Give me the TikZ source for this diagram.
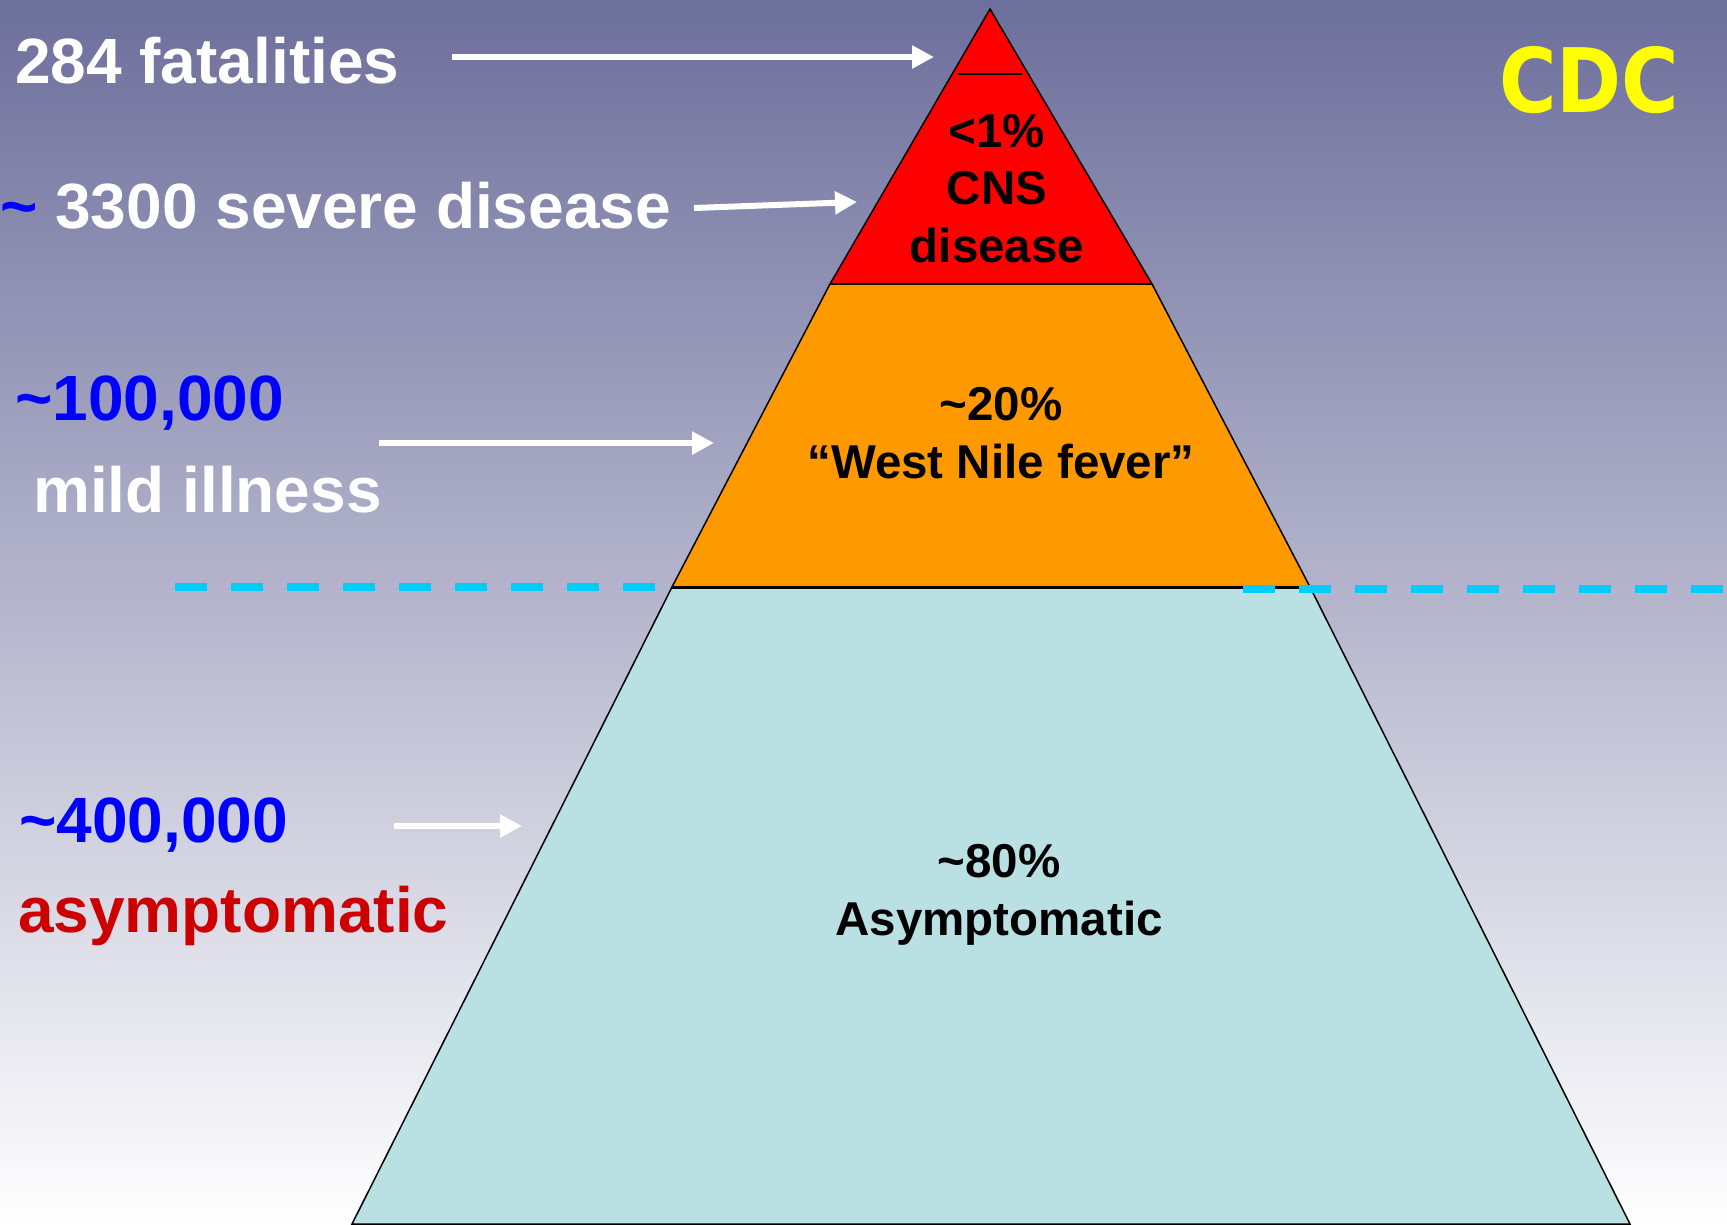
\documentclass[tikz,border=0pt]{standalone}
\usepackage{fontspec}
\setmainfont{Liberation Sans}
\newfontfamily\cdcfont{DejaVu Sans}
\usetikzlibrary{arrows.meta}
\definecolor{bgtop}{HTML}{6D6F9C}
\definecolor{pyrred}{HTML}{FF0000}
\definecolor{pyrorange}{HTML}{FF9900}
\definecolor{pyrcyan}{HTML}{B9E0E3}
\definecolor{waterline}{HTML}{00CCFF}
\definecolor{darkred}{HTML}{CC0000}
\definecolor{cdcyellow}{HTML}{FFFF00}
\tikzset{
  bigtxt/.style={font=\fontsize{64}{77}\selectfont\bfseries, inner sep=0pt, anchor=base west},
  pyrtxt/.style={font=\fontsize{47.5}{57}\selectfont\bfseries, inner sep=0pt, anchor=base, text=black},
  warrow/.style={draw=white, line width=6pt, -{Triangle[length=22pt,width=22pt]}, white},
  layer/.style={draw=black, line width=1.5pt, line join=miter},
  dashline/.style={draw=waterline, line width=8pt, dash pattern=on 32pt off 24pt}
}
\begin{document}
\begin{tikzpicture}[x=1pt,y=-1pt]
% background
\shade[top color=bgtop, bottom color=white] (0,0) rectangle (1727,1224);
\useasboundingbox (0,0) rectangle (1727,1224);

% pyramid
\path[layer, fill=pyrcyan] (672,587) -- (1310,587) -- (1630,1224) -- (352,1224) -- cycle;
\path[layer, fill=pyrorange] (830,284) -- (1152,284) -- (1310,587) -- (672,587) -- cycle;
\path[layer, fill=pyrred] (990,9) -- (1152,284) -- (830,284) -- cycle;
\draw[line width=3pt] (672,587) -- (1310,587);
\draw[line width=2.5pt] (830,284) -- (1152,284);
\draw[line width=2pt] (958,74) -- (1022,74);

% waterline
\draw[dashline] (175,587) -- (655,587);
\draw[dashline] (1243,589) -- (1724,589);

% pyramid labels
\node[pyrtxt] (p1a) at (997,147) {<1\%};
\node[pyrtxt] (p1b) at (997,204) {CNS};
\node[pyrtxt] (p1c) at (997,262) {disease};
\node[pyrtxt] (p2a) at (1001,420) {\textasciitilde20\%};
\node[pyrtxt] (p2b) at (1001,478) {“West Nile fever”};
\node[pyrtxt] (p3a) at (999,877) {\textasciitilde80\%};
\node[pyrtxt] (p3b) at (999,935) {Asymptomatic};

% left labels
\node[bigtxt, text=white] (fat) at (15,83) {284 fatalities};
\node[bigtxt, text=white] (sev) at (0,228) {{\color{blue}\textasciitilde} 3300 severe disease};
\node[bigtxt, text=blue] (n100) at (15,420) {\textasciitilde100,000};
\node[bigtxt, text=white] (mild) at (33,512) {mild illness};
\node[bigtxt, text=blue] (n400) at (19,842) {\textasciitilde400,000};
\node[bigtxt, text=darkred] (asy) at (18,932) {asymptomatic};

% CDC
\node[font=\cdcfont\fontsize{89}{100}\selectfont\bfseries, text=cdcyellow, inner sep=0pt, anchor=base] (cdc) at (1589,112) {\scalebox{0.88}[1]{CDC}};

% arrows
\coordinate (a1s) at (452,57);  \coordinate (a1e) at (934,57);
\coordinate (a2s) at (694,208); \coordinate (a2e) at (857,202);
\coordinate (a3s) at (379,443); \coordinate (a3e) at (714,443);
\coordinate (a4s) at (394,826); \coordinate (a4e) at (522,826);
\draw[warrow] (a1s) -- (a1e);
\draw[warrow] (a2s) -- (a2e);
\draw[warrow] (a3s) -- (a3e);
\draw[warrow] (a4s) -- (a4e);
\end{tikzpicture}
\end{document}
